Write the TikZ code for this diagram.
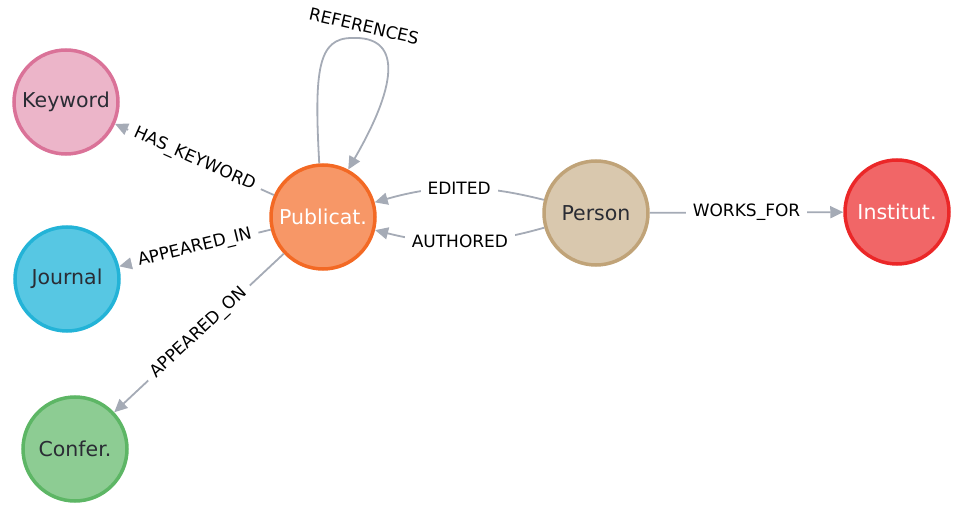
\documentclass[tikz,border=0pt]{standalone}
\usepackage{fontspec}
\setmainfont{DejaVu Sans}
\usepackage{xcolor}
\usetikzlibrary{arrows.meta}
\definecolor{edgegray}{HTML}{A5ABB6}
\definecolor{darktext}{HTML}{2A2C34}
\definecolor{kwdfill}{HTML}{ECB5C9}
\definecolor{kwdline}{HTML}{DA7298}
\definecolor{jrnfill}{HTML}{57C7E3}
\definecolor{jrnline}{HTML}{23B3D7}
\definecolor{cnffill}{HTML}{8DCC93}
\definecolor{cnfline}{HTML}{5DB665}
\definecolor{pubfill}{HTML}{F79767}
\definecolor{publine}{HTML}{F36924}
\definecolor{perfill}{HTML}{D9C8AE}
\definecolor{perline}{HTML}{C0A378}
\definecolor{insfill}{HTML}{F16667}
\definecolor{insline}{HTML}{EB2728}
\tikzset{
  nd/.style={circle, line width=3.5pt, minimum size=104pt, inner sep=0pt,
             font=\fontsize{20.5}{24}\selectfont, text=darktext},
  kwd/.style={nd, draw=kwdline, fill=kwdfill},
  jrn/.style={nd, draw=jrnline, fill=jrnfill},
  cnf/.style={nd, draw=cnfline, fill=cnffill},
  pub/.style={nd, draw=publine, fill=pubfill, text=white},
  per/.style={nd, draw=perline, fill=perfill},
  ins/.style={nd, draw=insline, fill=insfill, text=white},
  rel/.style={draw=edgegray, line width=1.8pt, -{Triangle[length=13pt, width=12pt]}},
  lbl/.style={fill=white, inner xsep=7pt, inner ysep=3pt,
              font=\fontsize{17}{20}\selectfont, text=black}
}
\begin{document}
\begin{tikzpicture}[x=1pt, y=-1pt]
\useasboundingbox (0,0) rectangle (954,505);

\node[kwd] (kw) at (66,102) {Keyword};
\node[jrn] (jr) at (67,279) {Journal};
\node[cnf] (cf) at (75,449) {Confer.};
\node[pub] (pb) at (323,217) {Publicat.};
\node[per] (ps) at (596,213) {Person};
\node[ins] (it) at (897,212) {Institut.};

\draw[rel] (pb) -- node[lbl, sloped] {HAS\_KEYWORD} (kw);
\draw[rel] (pb) -- node[lbl, sloped] {APPEARED\_IN} (jr);
\draw[rel] (pb) -- node[lbl, sloped] {APPEARED\_ON} (cf);
\draw[rel] (ps) to[bend right=15] node[lbl] {EDITED} (pb);
\draw[rel] (ps) to[bend left=15] node[lbl] {AUTHORED} (pb);
\draw[rel] (ps) -- node[lbl] {WORKS\_FOR} (it);
\draw[rel] (pb.94) .. controls (314,70) and (318,38) .. (352,38)
  node[lbl, fill=none, anchor=south, rotate=-13, xshift=9pt, yshift=4pt] {REFERENCES}
  .. controls (400,36) and (400,80) .. (pb.62);
\end{tikzpicture}
\end{document}
